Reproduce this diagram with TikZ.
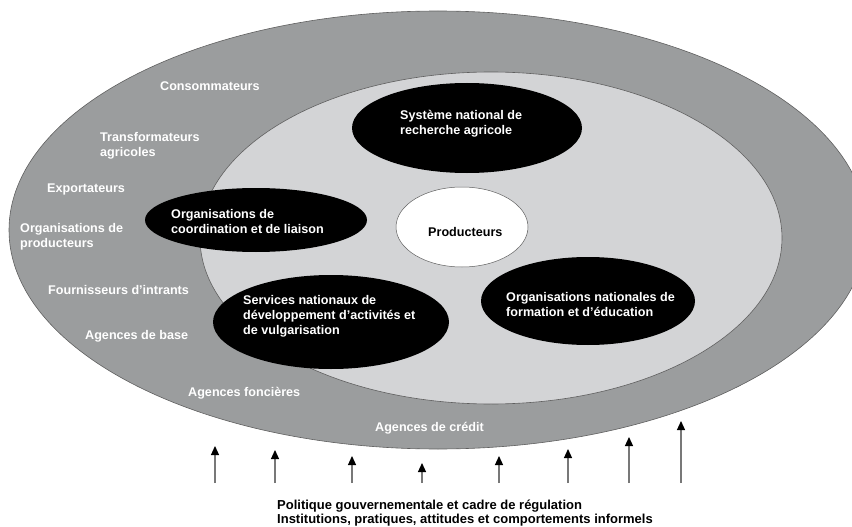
\documentclass[tikz,border=0pt]{standalone}
\usepackage{fontspec}
\setmainfont{Liberation Sans}
\usetikzlibrary{shapes.geometric,arrows.meta}

\definecolor{ringgray}{RGB}{155,157,158}
\definecolor{coregray}{RGB}{211,212,214}
\definecolor{edgegray}{RGB}{95,95,95}
\definecolor{shaftgray}{RGB}{120,120,120}

\tikzset{
  zone/.style={ellipse, draw=edgegray, line width=0.6pt, inner sep=0pt},
  actor/.style={ellipse, fill=black, inner sep=0pt},
  hub/.style={ellipse, fill=white, draw=edgegray, line width=0.5pt, inner sep=0pt},
  lbl/.style={text=white, font=\bfseries\fontsize{12.6}{15}\selectfont,
              align=left, inner sep=0pt, anchor=west},
  darklbl/.style={lbl, text=black},
  pull/.style={draw=shaftgray, line width=1.2pt,
               -{Triangle[color=black, width=8pt, length=9pt]}}
}

\begin{document}
\begin{tikzpicture}[x=1pt, y=-1pt]
\useasboundingbox (0,0) rectangle (852,527);
\clip (0,0) rectangle (852,527);

% outer ring of actors and inner core
\node[zone, fill=ringgray, minimum width=858, minimum height=438] (ring) at (438,230) {};
\node[zone, fill=coregray, minimum width=582, minimum height=332] (core) at (491,238) {};

% organisations inside the core
\node[actor, minimum width=230, minimum height=90] (snra) at (467,128) {};
\node[actor, minimum width=222, minimum height=64] (coord) at (256,220) {};
\node[hub, minimum width=132, minimum height=80] (prod) at (462,227) {};
\node[actor, minimum width=236, minimum height=94] (vulg) at (331,322) {};
\node[actor, minimum width=214, minimum height=88] (educ) at (588,301) {};

% labels of the ring
\node[lbl] (consommateurs) at (160,86) {Consommateurs};
\node[lbl] (transformateurs) at (100,145.5) {Transformateurs\\agricoles};
\node[lbl] (exportateurs) at (47,189) {Exportateurs};
\node[lbl] (orgprod) at (20,236.5) {Organisations de\\producteurs};
\node[lbl] (fournisseurs) at (48,290) {Fournisseurs d'intrants};
\node[lbl] (agbase) at (85,336) {Agences de base};
\node[lbl] (agfonc) at (188,393) {Agences foncières};
\node[lbl] (agcred) at (375,428) {Agences de crédit};

% labels of the core organisations
\node[lbl] (snra-txt) at (400,124) {Système national de\\recherche agricole};
\node[lbl] (coord-txt) at (171,221) {Organisations de\\coordination et de liaison};
\node[darklbl] (prod-txt) at (428,232) {Producteurs};
\node[lbl] (vulg-txt) at (243,316) {Services nationaux de\\développement d'activités et\\de vulgarisation};
\node[lbl] (educ-txt) at (506,304) {Organisations nationales de\\formation et d'éducation};

% policy framework pushing up from below
\foreach \i/\x/\t in {1/215/446, 2/275/450, 3/352/456, 4/422/463,
                      5/499/456, 6/568/449, 7/629/437, 8/681/421} {
  \coordinate (foot\i) at (\x,483);
  \coordinate (tip\i) at (\x,\t);
  \draw[pull] (foot\i) -- (tip\i);
}

\node[darklbl, font=\bfseries\fontsize{13}{14.5}\selectfont] (policy) at (277,513)
  {Politique gouvernementale et cadre de régulation\\Institutions, pratiques, attitudes et comportements informels};
\end{tikzpicture}
\end{document}
